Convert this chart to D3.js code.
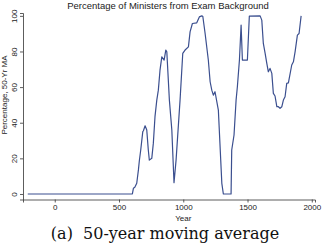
<!DOCTYPE html>
<html><head><meta charset="utf-8">
<script src="https://cdn.jsdelivr.net/npm/d3@7"></script>
<style>body{margin:0;background:#fff}svg{display:block}</style>
</head><body>
<script>
const years = [-210,604,612,623,638,651,658,669,685,690,703,716,728,736,755,767,780,794,806,819,833,851,864,872,892,911,928,944,975,996,1014,1040,1053,1071,1105,1125,1144,1152,1170,1195,1209,1222,1234,1247,1273,1300,1312,1372,1377,1395,1411,1421,1437,1450,1460,1499,1514,1598,1611,1623,1637,1650,1662,1675,1689,1701,1714,1728,1740,1753,1767,1779,1792,1805,1818,1844,1857,1870,1888,1901,1917];
const values = [0,0,3.2,3.8,6,13.5,18.5,24.7,35,35.5,38.3,35.9,24.7,19,20,28.4,43.4,52.7,58.3,69.5,77,75.2,80.8,79.8,52.7,35.9,6.3,19,52.7,78.9,80.8,82.6,91,95.7,96.1,99.4,100,99.8,90.1,75.2,63,58.3,55.5,57.4,47.1,6,0,0,24.7,33.1,52.7,60.2,75.2,94.8,75.2,75.2,99.8,100,97.6,84.5,78.9,73.3,68.6,70.5,67.7,56.5,55,49,49,48.1,49,52.7,54.6,62.1,62.4,72.4,74.2,79.8,89.2,90.1,100];
const xTicks = [0,500,1000,1500,2000];
const yTicks = [0,20,40,60,80,100];

const W=324,H=247;
const svg=d3.select("body").append("svg").attr("width",W).attr("height",H);
const x=d3.scaleLinear().domain([-247,2025]).range([23,315]);
const y=d3.scaleLinear().domain([-3.1,101.6]).range([199.5,13]);
const font="'Liberation Sans', Arial, sans-serif";

// x axis
const gx=svg.append("g").attr("transform","translate(0,199.5)")
  .call(d3.axisBottom(x).tickValues(xTicks).tickSize(3).tickPadding(2).tickFormat(d3.format("d")));
gx.selectAll("text").attr("font-family",font).attr("font-size","8px").attr("fill","#222");
gx.selectAll("line,path").attr("stroke","#333").attr("stroke-width",0.8);

// y axis
const gy=svg.append("g").attr("transform","translate(23,0)")
  .call(d3.axisLeft(y).tickValues(yTicks).tickSize(3).tickPadding(2));
gy.selectAll("line,path").attr("stroke","#333").attr("stroke-width",0.8);
gy.selectAll("text").attr("font-family",font).attr("font-size","8px").attr("fill","#222")
  .attr("text-anchor","middle").attr("x",0).attr("dy",0)
  .attr("transform","translate(-6,0) rotate(-90)");

// line
const line=d3.line().x((d,i)=>x(years[i])).y((d,i)=>y(values[i]));
svg.append("path").datum(values).attr("d",line).attr("fill","none")
  .attr("stroke","#3b4f8f").attr("stroke-width",1.2).attr("stroke-linejoin","round");

// titles
svg.append("text").attr("x",168).attr("y",9).attr("text-anchor","middle")
  .attr("font-family",font).attr("font-size","9.5px").attr("fill","#222")
  .text("Percentage of Ministers from Exam Background");
svg.append("text").attr("x",(x(0)+x(2000))/2).attr("y",221).attr("text-anchor","middle")
  .attr("font-family",font).attr("font-size","8px").attr("fill","#222").text("Year");
svg.append("text").attr("transform","translate(7,95) rotate(-90)").attr("text-anchor","middle")
  .attr("font-family",font).attr("font-size","8px").attr("fill","#222").text("Percentage, 50-Yr MA");
svg.append("text").attr("x",165).attr("y",239).attr("text-anchor","middle")
  .attr("font-family","'DejaVu Serif', 'Liberation Serif', serif").attr("font-size","16px").attr("fill","#111")
  .style("white-space","pre")
  .text("(a)  50-year moving average");
</script>
</body></html>
